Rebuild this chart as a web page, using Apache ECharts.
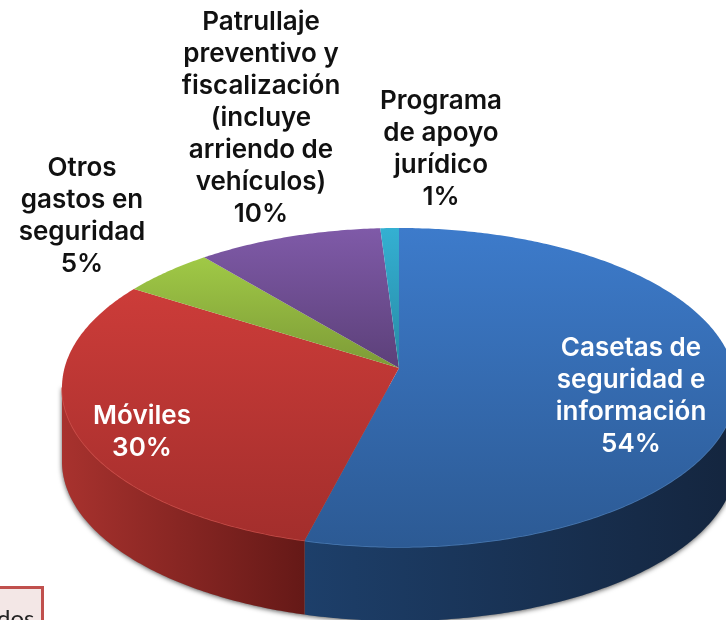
<!DOCTYPE html>
<html><head><meta charset="utf-8">
<style>html,body{margin:0;padding:0;background:#fff}#c{width:726px;height:620px}</style>
<script src="https://cdn.jsdelivr.net/npm/echarts@6/dist/echarts.min.js"></script>
</head><body><div id="c"></div>
<script>
// Data
const categories = ['Casetas de\nseguridad e\ninformación', 'Móviles', 'Otros\ngastos en\nseguridad', 'Patrullaje\npreventivo y\nfiscalización\n(incluye\narriendo de\nvehículos)', 'Programa\nde apoyo\njurídico'];
const shares = [54, 30, 5, 10, 1];
const unit = '%';
const footnoteFragment = 'dos';

// Styles and layout
const topColors = [['#3d7bcb', '#2c5a94'], ['#cc3c39', '#a32e2c'], ['#a0c946', '#7d9b37'], ['#7f5aa8', '#5c4079'], ['#34b0d2', '#288aa5']];
const wallColors = [['#1d3f6a', '#14253e'], ['#a8322e', '#651917'], ['#7d9b37', '#7d9b37'], ['#5c4079', '#5c4079'], ['#288aa5', '#288aa5']];
const rimColors = ['#4f86c6', '#d9524d', '#7d9b37', '#5c4079', '#288aa5'];
const textColors = ['#ffffff', '#ffffff', '#111111', '#111111', '#111111'];
const labelAnchors = [[631, 396], [142, 432], [82, 216], [261, 118], [441, 149]];
const G = {apexX: 399, apexY: 368, cx: 399, cy: 387.5, rx: 337, ry: 159.5, depth: 74};

const total = shares.reduce((a, b) => a + b, 0);
const cumul = shares.reduce((a, v, i) => (a.push(a[i] + v), a), [0]);
const p = (G.apexY - G.cy) / G.ry;
const k = Math.sqrt(1 - p * p);
// Rim point for a true angle (clockwise from the top), seen in perspective.
function rim(theta) {
  const du = Math.sin(theta), dv = -k * Math.cos(theta);
  const a = du * du + dv * dv, b = 2 * p * dv, c = p * p - 1;
  const t = (-b + Math.sqrt(b * b - 4 * a * c)) / (2 * a);
  return [G.cx + G.rx * du * t, G.cy + G.ry * (p + dv * t)];
}
function arc(i) {
  const a0 = cumul[i] / total * 2 * Math.PI, a1 = cumul[i + 1] / total * 2 * Math.PI;
  const n = Math.max(4, Math.ceil((a1 - a0) * 90)), pts = [];
  for (let j = 0; j <= n; j++) pts.push(rim(a0 + (a1 - a0) * j / n));
  return pts;
}
const grad = (x, y, x2, y2, cs, global) => new echarts.graphic.LinearGradient(x, y, x2, y2, [{offset: 0, color: cs[0]}, {offset: 1, color: cs[1]}], global);

function renderShadow() {
  const bot = [];
  for (let j = 0; j <= 180; j++) { bot.push([G.cx + G.rx * Math.cos(j * Math.PI / 180), G.cy + G.depth + G.ry * Math.sin(j * Math.PI / 180)]); }
  return {type: 'polygon', shape: {points: bot.concat([[G.cx - G.rx, G.cy], [G.cx + G.rx, G.cy]])},
    style: {fill: '#888', shadowBlur: 5, shadowColor: 'rgba(0,0,0,0.65)', shadowOffsetX: 0, shadowOffsetY: 1}};
}
function renderWall(params) {
  const i = params.dataIndex;
  const front = arc(i).filter(q => q[1] >= G.cy - 1);
  if (front.length < 2) return {type: 'group', children: []};
  const lower = front.map(q => [q[0], q[1] + G.depth]).reverse();
  const xs = front.map(q => q[0]);
  const x0 = Math.min.apply(null, xs), x1 = Math.max.apply(null, xs);
  return {type: 'group', children: [
    {type: 'polygon', shape: {points: front.concat(lower)}, style: {fill: grad(x0, 0, x1, 0, wallColors[i], true)}},
    {type: 'polyline', shape: {points: front}, style: {fill: null, stroke: rimColors[i], lineWidth: 1.5, opacity: 0.8}}
  ]};
}
function renderTop(params) {
  const i = params.dataIndex;
  const pts = [[G.apexX, G.apexY]].concat(arc(i));
  return {type: 'polygon', shape: {points: pts},
    style: {fill: grad(0, 0, 0, 1, topColors[i], false)}};
}
function renderLabel(params) {
  const i = params.dataIndex;
  return {type: 'text', x: labelAnchors[i][0], y: labelAnchors[i][1],
    style: {text: categories[i] + '\n' + shares[i] + unit, fill: textColors[i], align: 'center', verticalAlign: 'middle',
      font: '600 26px "Inter", sans-serif', lineHeight: 32}};
}
const ids = shares.map((v, i) => i);
const chart = echarts.init(document.getElementById('c'), null, {renderer: 'canvas', width: 726, height: 620});
chart.setOption({
  animation: false,
  backgroundColor: '#ffffff',
  tooltip: {show: false},
  graphic: [
    {type: 'rect', z: 10, shape: {x: -3, y: 587.5, width: 45.5, height: 40}, style: {fill: '#f3e7e6', stroke: '#c0504d', lineWidth: 3}},
    {type: 'text', z: 11, x: -3, y: 619, style: {text: footnoteFragment, fill: '#222', font: '24px "Lato", sans-serif', align: 'left', verticalAlign: 'middle'}}
  ],
  series: [
    {type: 'custom', coordinateSystem: 'none', data: [0], renderItem: renderShadow, silent: true, z: 1},
    {type: 'custom', coordinateSystem: 'none', data: ids, renderItem: renderWall, silent: true, z: 2},
    {type: 'custom', coordinateSystem: 'none', data: ids, renderItem: renderTop, silent: true, z: 3},
    {type: 'custom', coordinateSystem: 'none', data: ids, renderItem: renderLabel, silent: true, z: 4}
  ]
});
</script></body></html>
